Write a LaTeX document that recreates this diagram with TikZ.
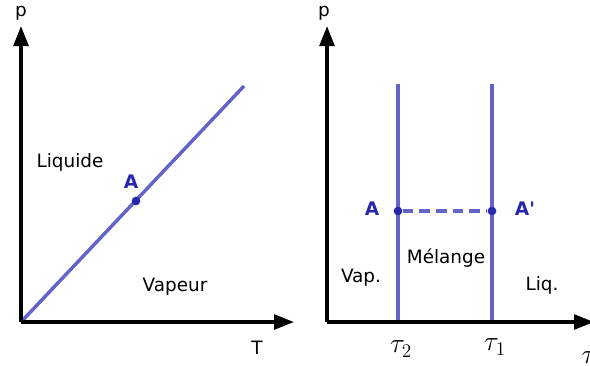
\documentclass[tikz,border=0pt]{standalone}
\usepackage{fontspec}
\setmainfont{DejaVu Sans}[Ligatures=TeXOff]
\usetikzlibrary{arrows.meta}
\definecolor{curve}{RGB}{100,100,200}
\definecolor{ptcol}{RGB}{40,40,170}
\tikzset{
  axis/.style={line width=2.6pt,-{Triangle[length=15pt,width=11pt]}},
  curveline/.style={curve,line width=2.6pt},
  lbl/.style={font=\fontsize{13.8}{15}\selectfont,text=black,inner sep=0pt},
  ptlbl/.style={font=\fontsize{14}{15}\selectfont\bfseries,text=ptcol,inner sep=0pt},
  dot/.style={circle,fill=ptcol,inner sep=0pt,minimum size=6.5pt},
  taulbl/.style={font=\fontsize{20}{22}\selectfont,inner sep=0pt}
}
\begin{document}
\begin{tikzpicture}[x=0.75pt,y=-0.75pt]
\useasboundingbox (0,0) rectangle (590,365);
\clip (0,0) rectangle (590,365);
% left diagram
\coordinate (O1) at (21,322);
\coordinate (Y1) at (21,26);
\coordinate (X1) at (294,322);
\coordinate (E1) at (244,86);
\draw[curveline] (O1) -- (E1);
\node[dot] (A1) at (136,201) {};
\draw[axis] (O1) -- (Y1);
\draw[axis] (O1) -- (X1);
\node[lbl] (p1) at (21,13) {p};
\node[lbl] (T1) at (257,348) {T};
\node[lbl] (liq) at (70,162) {Liquide};
\node[lbl] (vap) at (175,287) {Vapeur};
\node[ptlbl] (Alab) at (131,182) {A};
% right diagram
\coordinate (O2) at (327,322);
\coordinate (Y2) at (327,26);
\coordinate (X2) at (594,322);
\coordinate (L1t) at (398,84);
\coordinate (L1b) at (398,322);
\coordinate (L2t) at (492,84);
\coordinate (L2b) at (492,322);
\draw[curveline] (L1t) -- (L1b);
\draw[curveline] (L2t) -- (L2b);
\node[dot] (A2) at (398,211) {};
\node[dot] (A3) at (492,211) {};
\draw[curveline,dash pattern=on 8pt off 4.5pt] (A2) -- (A3);
\draw[axis] (O2) -- (Y2);
\draw[axis] (O2) -- (X2);
\node[lbl] (p2) at (324,13) {p};
\node[ptlbl] (Ab) at (372,209) {A};
\node[ptlbl] (Ap) at (525,209) {A'};
\node[lbl] (mel) at (446,258) {Mélange};
\node[lbl] (vp) at (361,278) {Vap.};
\node[lbl] (lq) at (542,285) {Liq.};
\node[taulbl] (t2) at (401,349) {$\tau_2$};
\node[taulbl] (t1) at (495,347) {$\tau_1$};
\node[taulbl] (t) at (589,358) {$\tau$};
\end{tikzpicture}
\end{document}
